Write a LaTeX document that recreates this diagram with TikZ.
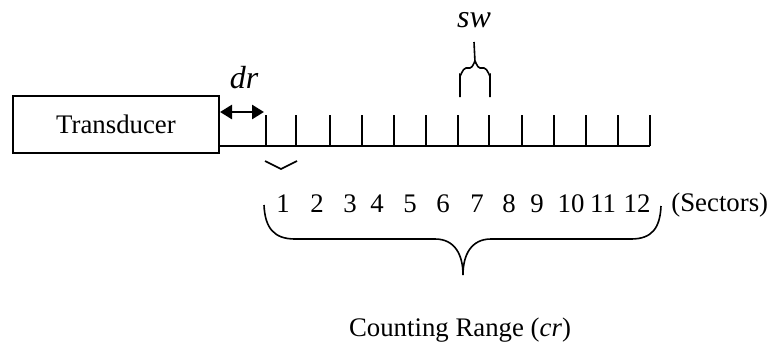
\documentclass[tikz,border=0pt]{standalone}
\usepackage{fontspec}
\setmainfont{Liberation Serif}
\usetikzlibrary{arrows.meta, positioning, calc}

\begin{document}
\begin{tikzpicture}[x=0.5pt,y=-0.5pt,
  font=\fontsize{13.4}{16}\selectfont,
  box/.style={draw,line width=1pt,minimum width=103pt,minimum height=28.5pt,inner sep=0pt},
  lbl/.style={inner sep=0pt},
  ital/.style={inner sep=0pt,font=\fontsize{16}{19}\selectfont\itshape},
  rul/.style={line width=1pt},
  brc/.style={line width=0.8pt},
  arr/.style={{Triangle[length=6pt,width=7pt]}-{Triangle[length=6pt,width=7pt]},line width=1.3pt}
]
\useasboundingbox (0,0) rectangle (769,349);
\node[box] (trans) at (116,124.5) {Transducer};
% ticks of the sectors
\foreach \x [count=\i from 0] in {266,296,330,362,394,426,458,489,522,554,586,618,650}
  \coordinate (t\i) at (\x,146);
\draw[rul] (trans.east |- t0) -- (t12);
\foreach \i in {0,...,12} \draw[rul] (t\i) -- ++(0,-31);
% dead range
\coordinate (drr) at (264,112);
\draw[arr] (trans.east |- drr) -- (drr);
\node[ital] (dr) at (244,78) {dr};
\draw[brc] (265,161) -- (281,169) -- (297,161);
% sector width
\node[ital] (sw) at (474,20) {sw};
\draw[brc] (460,97) -- (460,75) to[out=-90,in=180] (466,68) -- (470,68)
  to[out=0,in=90] (475,62) -- (sw.south |- 0,42);
\draw[brc] (490,97) -- (490,75) to[out=-90,in=0] (484,68) -- (480,68)
  to[out=180,in=90] (475,62);
% sector numbers
\foreach \x [count=\n] in {283,317,350,377,410,443,477,509,537,571,603,637}
  \node[lbl] (n\n) at (\x,204) {\n};
\node[lbl,anchor=west] (sec) at (671,205) {(Sectors)};
% counting range
\draw[brc] (264,205) .. controls (265,228) and (274,239) .. (295,239) -- (435,239)
  .. controls (455,239) and (463,255) .. (463,275)
  .. controls (463,255) and (471,239) .. (491,239) -- (631,239)
  .. controls (652,239) and (660,228) .. (661,206);
\node[lbl] (cr) at (460,330) {Counting Range (\textit{cr})};
\end{tikzpicture}
\end{document}
